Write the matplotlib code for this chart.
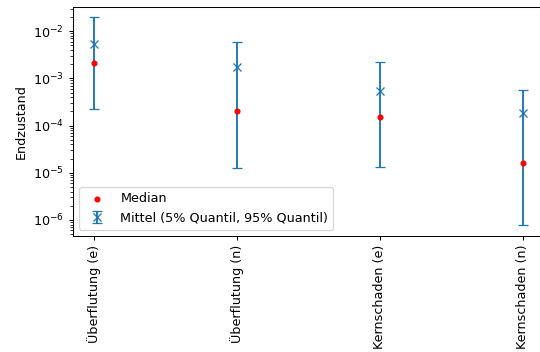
import matplotlib
matplotlib.use("Agg")
import matplotlib.pyplot as plt
import numpy as np

categories = ["Überflutung (e)", "Überflutung (n)", "Kernschaden (e)", "Kernschaden (n)"]
mean_vals = [5.3e-3, 1.7e-3, 5.4e-4, 1.8e-4]
median_vals = [2.1e-3, 2.0e-4, 1.5e-4, 1.6e-5]
q05_vals = [2.2e-4, 1.25e-5, 1.35e-5, 7.8e-7]
q95_vals = [2.0e-2, 5.9e-3, 2.2e-3, 5.6e-4]

DPI = 92
fig = plt.figure(figsize=(540/DPI, 352/DPI), dpi=DPI)
ax = fig.add_axes([73/540, 1-236/352, (544-73)/540, (236-7)/352])

x = np.arange(len(categories))
mean = np.array(mean_vals)
yerr = np.array([mean - np.array(q05_vals), np.array(q95_vals) - mean])

ax.scatter(x, median_vals, color="red", s=14, zorder=3, label="Median")
ax.errorbar(x, mean, yerr=yerr, fmt="x", color="#1f77b4", capsize=4, ms=6,
            label="Mittel (5% Quantil, 95% Quantil)")
ax.set_yscale("log")
ax.set_xlim(-0.15, 3.15)
ax.set_ylim(10**-6.34, 10**-1.49)
ax.set_xticks(x)
ax.set_xticklabels(categories, rotation=90)
ax.set_ylabel("Endzustand")
ax.legend(loc="lower left")

fig.savefig("out.png", dpi=DPI)
